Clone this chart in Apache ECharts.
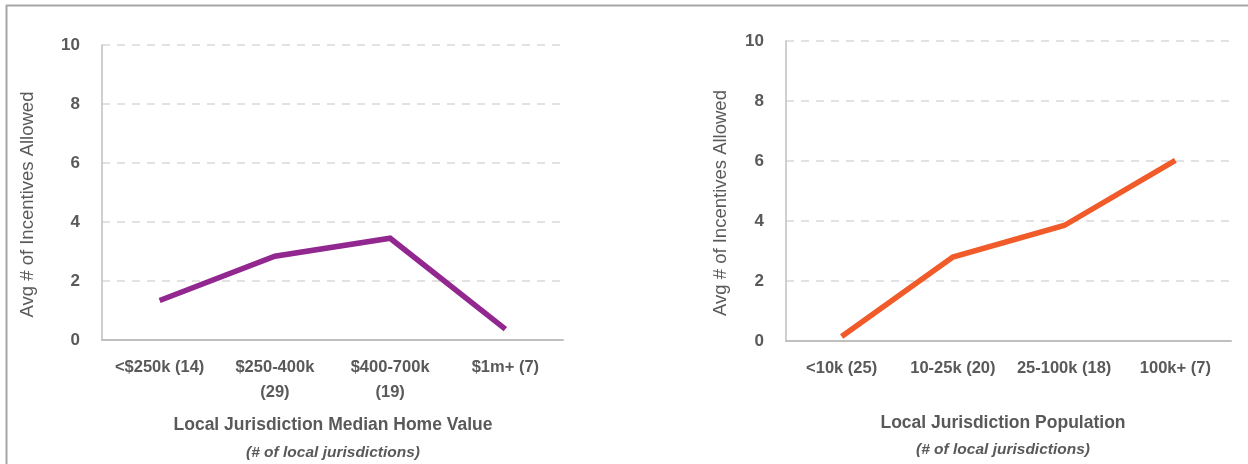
<!DOCTYPE html>
<html>
<head>
<meta charset="utf-8">
<script src="https://cdn.jsdelivr.net/npm/echarts@6/dist/echarts.min.js"></script>
<style>
html,body{margin:0;padding:0;background:#fff;}
#c{width:1248px;height:464px;}
</style>
</head>
<body>
<div id="c"></div>
<script>
// ---- data ----
var homeValueCategories = ['<$250k (14)', '$250-400k\n(29)', '$400-700k\n(19)', '$1m+ (7)'];
var homeValueIncentives = [1.34, 2.84, 3.45, 0.37];
var populationCategories = ['<10k (25)', '10-25k (20)', '25-100k (18)', '100k+ (7)'];
var populationIncentives = [0.15, 2.8, 3.85, 6.02];
var yTicks = [0, 2, 4, 6, 8, 10];
var yAxisTitle = 'Avg # of Incentives Allowed';
var leftXTitle = 'Local Jurisdiction Median Home Value';
var rightXTitle = 'Local Jurisdiction Population';
var xSubtitle = '(# of local jurisdictions)';

var FONT = "'Liberation Sans', Arial, sans-serif";
var TXT = '#595959';

function yAxisDef(gridIndex, gap) {
  return {
    type: 'value', gridIndex: gridIndex,
    min: yTicks[0], max: yTicks[yTicks.length - 1], interval: yTicks[1] - yTicks[0],
    name: yAxisTitle, nameLocation: 'middle', nameGap: gap,
    nameTextStyle: { fontFamily: FONT, fontSize: 18.5, color: TXT, fontWeight: 'normal', padding: [0, 24, 0, 0] },
    axisLine: { show: true, lineStyle: { color: '#bfbfbf', width: 1.5 } },
    axisTick: { show: false },
    axisLabel: { fontFamily: FONT, fontSize: 17, color: TXT, fontWeight: 'bold', margin: 22 },
    splitLine: { show: true, lineStyle: { color: '#d9d9d9', type: [8, 7], width: 1.5 } }
  };
}
function xAxisDef(gridIndex, cats) {
  return {
    type: 'category', gridIndex: gridIndex, data: cats, boundaryGap: true,
    axisLine: { show: true, lineStyle: { color: '#bfbfbf', width: 2 } },
    axisTick: { show: false },
    axisLabel: { fontFamily: FONT, fontSize: 16.5, color: TXT, fontWeight: 'bold', margin: 15, lineHeight: 25, interval: 0 }
  };
}
function txt(str, x, y, size, italic) {
  return { type: 'text', x: x, y: y, silent: true,
    style: { text: str, fill: TXT, font: (italic ? 'italic ' : '') + 'bold ' + size + 'px ' + FONT,
      textAlign: 'center', textVerticalAlign: 'middle' } };
}

var chart = echarts.init(document.getElementById('c'));
chart.setOption({
  animation: false,
  backgroundColor: '#ffffff',
  grid: [
    { left: 102, right: 685, top: 45, bottom: 124 },
    { left: 786, right: 17, top: 41, bottom: 123 }
  ],
  xAxis: [xAxisDef(0, homeValueCategories), xAxisDef(1, populationCategories)],
  yAxis: [yAxisDef(0, 65), yAxisDef(1, 56)],
  graphic: [
    { type: 'line', shape: { x1: 6, y1: 5.5, x2: 1248, y2: 5.5 }, style: { stroke: '#a6a6a6', lineWidth: 2 } },
    { type: 'line', shape: { x1: 6.5, y1: 5, x2: 6.5, y2: 464 }, style: { stroke: '#a6a6a6', lineWidth: 2 } },
    txt(leftXTitle, 333, 425, 17.5, false),
    txt(xSubtitle, 333, 453, 15.5, true),
    txt(rightXTitle, 1003, 423, 17.5, false),
    txt(xSubtitle, 1003, 450, 15.5, true)
  ],
  series: [
    { type: 'line', xAxisIndex: 0, yAxisIndex: 0, data: homeValueIncentives,
      symbol: 'none', lineStyle: { color: '#92278f', width: 5.5, cap: 'butt', join: 'miter' } },
    { type: 'line', xAxisIndex: 1, yAxisIndex: 1, data: populationIncentives,
      symbol: 'none', lineStyle: { color: '#f15a29', width: 5.5, cap: 'butt', join: 'miter' } }
  ]
});
</script>
</body>
</html>
